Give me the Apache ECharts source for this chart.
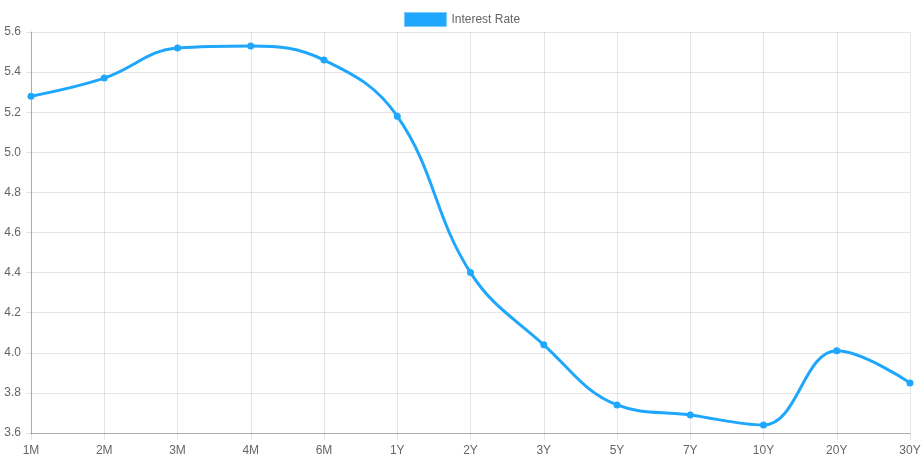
<!DOCTYPE html>
<html>
<head>
<meta charset="utf-8">
<script src="https://cdn.jsdelivr.net/npm/echarts@6/dist/echarts.min.js"></script>
<style>html,body{margin:0;padding:0;background:#fff}#c{width:924px;height:462px}</style>
</head>
<body>
<div id="c"></div>
<script>
const categories = ['1M','2M','3M','4M','6M','1Y','2Y','3Y','5Y','7Y','10Y','20Y','30Y'];
const rates = [5.28, 5.37, 5.52, 5.53, 5.46, 5.18, 4.40, 4.04, 3.74, 3.69, 3.64, 4.01, 3.85];
const yTicks = {min: 3.6, max: 5.6, interval: 0.2};
const seriesName = 'Interest Rate';

const chart = echarts.init(document.getElementById('c'));
const gridColor = 'rgba(0,0,0,0.1)';
const textColor = '#666';
const font = 'Liberation Sans, Arial, Helvetica, sans-serif';
chart.setOption({
  animation: false,
  textStyle: {fontFamily: font},
  legend: {
    top: 7, left: 'center',
    itemWidth: 42, itemHeight: 14, itemGap: 10,
    icon: 'rect',
    textStyle: {color: textColor, fontSize: 12, fontFamily: font},
    data: [{name: seriesName, itemStyle: {color: '#1EA7FD', borderColor: '#7cc8fb', borderWidth: 1}}]
  },
  grid: {left: 31, right: 14, top: 32, bottom: 29, containLabel: false},
  xAxis: {
    type: 'category', data: categories, boundaryGap: false,
    axisLine: {show: true, lineStyle: {color: 'rgba(0,0,0,0.25)'}},
    axisTick: {show: true, length: 7, lineStyle: {color: gridColor}},
    axisLabel: {color: textColor, fontSize: 12, margin: 12, fontFamily: font},
    splitLine: {show: true, lineStyle: {color: gridColor}}
  },
  yAxis: {
    type: 'value', min: yTicks.min, max: yTicks.max, interval: yTicks.interval,
    axisLine: {show: true, lineStyle: {color: 'rgba(0,0,0,0.25)'}},
    axisTick: {show: true, length: 5, lineStyle: {color: gridColor}},
    axisLabel: {color: textColor, fontSize: 12, margin: 10, fontFamily: font,
      formatter: v => v.toFixed(1)},
    splitLine: {show: true, lineStyle: {color: gridColor}}
  },
  series: [{
    name: seriesName, type: 'line', data: rates, smooth: 0.4,
    symbol: 'circle', symbolSize: 7, showSymbol: true,
    lineStyle: {color: '#1EA7FD', width: 3},
    itemStyle: {color: '#1EA7FD'}
  }]
});
</script>
</body>
</html>
